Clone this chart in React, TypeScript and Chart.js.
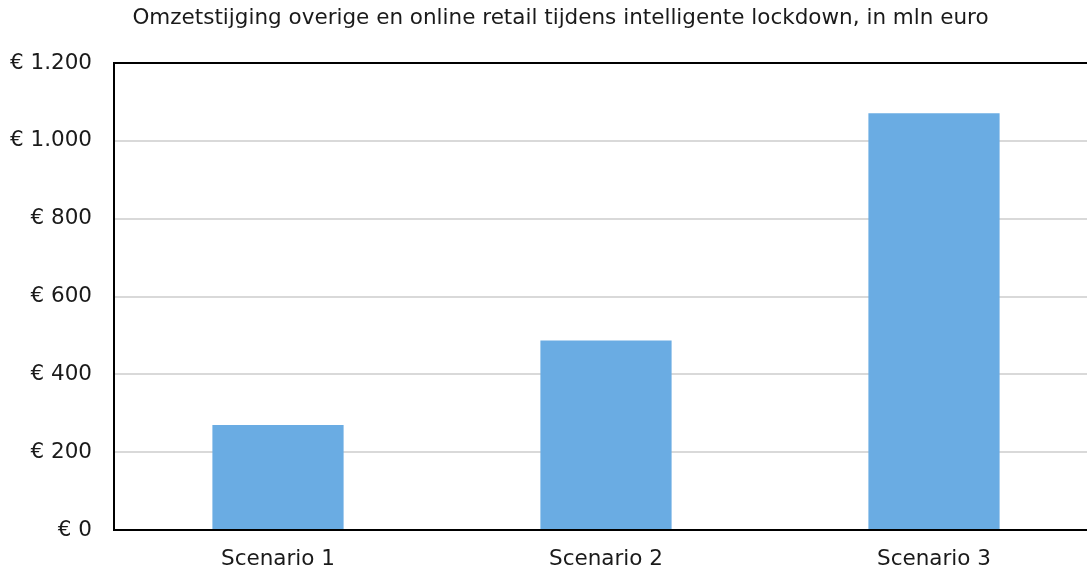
import React, { useEffect, useRef } from "react";
import { Chart, registerables } from "chart.js";

Chart.register(...registerables);

const titleText = "Omzetstijging overige en online retail tijdens intelligente lockdown, in mln euro";
const categories = ["Scenario 1", "Scenario 2", "Scenario 3"];
const values = [270, 487, 1071];
const yMin = 0;
const yMax = 1200;
const yStep = 200;

const fmt = (v: number) => "€ " + String(Math.round(v)).replace(/\B(?=(\d{3})+(?!\d))/g, ".");

const FONT = "DejaVu Sans";
const TEXT_COLOR = "#1a1a1a";

const frameAndTitle = {
  id: "frameAndTitle",
  afterDraw(chart: any) {
    const { ctx, chartArea } = chart;
    ctx.save();
    ctx.strokeStyle = "#000";
    ctx.lineWidth = 2;
    ctx.beginPath();
    ctx.moveTo(chartArea.left - 1, chartArea.top);
    ctx.lineTo(chartArea.right + 2, chartArea.top);
    ctx.stroke();
    ctx.fillStyle = TEXT_COLOR;
    ctx.font = `21.5px "${FONT}"`;
    ctx.textAlign = "center";
    ctx.textBaseline = "middle";
    ctx.fillText(titleText, (chartArea.right + 23) / 2, 18);
    ctx.restore();
  },
};

export default function App() {
  const ref = useRef<HTMLCanvasElement | null>(null);
  useEffect(() => {
    document.body.style.margin = "0";
    const chart = new Chart(ref.current!, {
      type: "bar",
      data: {
        labels: categories,
        datasets: [
          {
            data: values,
            backgroundColor: "#6aace3",
            barPercentage: 0.4,
            categoryPercentage: 1,
          },
        ],
      },
      options: {
        animation: false,
        responsive: false,
        layout: { padding: { left: 0, right: 0, top: 63, bottom: 0 } },
        plugins: {
          legend: { display: false },
          tooltip: { enabled: false },
          title: { display: false },
        },
        scales: {
          x: {
            afterFit: (s: any) => {
              s.height = 43;
            },
            grid: { display: false, drawTicks: false },
            border: { color: "#000", width: 2 },
            ticks: {
              color: TEXT_COLOR,
              font: { family: FONT, size: 21.5 },
              padding: 17,
            },
          },
          y: {
            min: yMin,
            max: yMax,
            afterFit: (s: any) => {
              s.width = 114;
            },
            grid: { color: "#d9d9d9", lineWidth: 2, drawTicks: false },
            border: { color: "#000", width: 2 },
            ticks: {
              stepSize: yStep,
              color: TEXT_COLOR,
              font: { family: FONT, size: 21.5 },
              padding: 22,
              callback: (v: any) => fmt(Number(v)),
            },
          },
        },
      },
      plugins: [frameAndTitle],
    });
    return () => chart.destroy();
  }, []);
  return (
    <div style={{ width: 1087, height: 573, overflow: "hidden" }}>
      <canvas ref={ref} width={1098} height={573} style={{ display: "block" }} />
    </div>
  );
}
